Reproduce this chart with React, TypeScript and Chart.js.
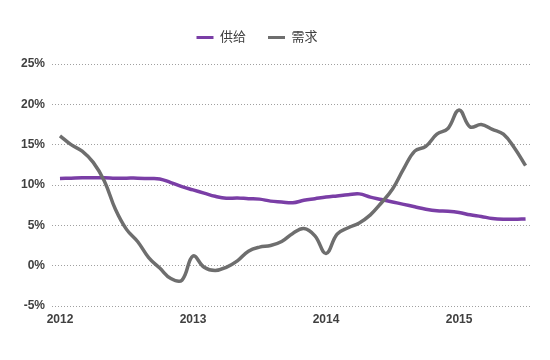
import React, { useEffect, useRef } from "react";
import { Chart, registerables } from "chart.js";

Chart.register(...registerables);

// months since Jan 2012
const months = [
  0, 1, 2, 3, 4, 5, 6, 7, 8, 9, 10, 11, 12, 13, 14, 15, 16, 17, 18, 19, 20,
  21, 22, 23, 24, 25, 26, 27, 28, 29, 30, 31, 32, 33, 34, 35, 36, 37, 38, 39,
  40, 41, 42,
];

const supply = [
  10.8, 10.85, 10.9, 10.9, 10.9, 10.85, 10.85, 10.85, 10.8, 10.75, 10.3, 9.8,
  9.4, 9.0, 8.6, 8.35, 8.4, 8.3, 8.25, 8.0, 7.9, 7.8, 8.1, 8.3, 8.5, 8.65, 8.8,
  8.9, 8.5, 8.2, 7.9, 7.6, 7.3, 7.0, 6.8, 6.75, 6.6, 6.3, 6.1, 5.85, 5.75,
  5.75, 5.8,
];

const demand = [
  16.1, 15.0, 14.2, 12.8, 10.5, 7.0, 4.5, 3.0, 1.0, -0.3, -1.6, -1.8, 1.2,
  -0.2, -0.6, -0.2, 0.6, 1.8, 2.3, 2.5, 3.0, 4.0, 4.6, 3.7, 1.5, 3.9, 4.7, 5.3,
  6.3, 7.8, 9.5, 12.0, 14.2, 14.8, 16.3, 17.0, 19.3, 17.2, 17.5, 16.9, 16.3,
  14.6, 12.4,
];

const seriesNames = ["供给", "需求"];
const yearTickValues = [0, 12, 24, 36];
const yearTickLabels = ["2012", "2013", "2014", "2015"];

export default function App() {
  const ref = useRef<HTMLCanvasElement | null>(null);

  useEffect(() => {
    if (!ref.current) return;
    const legendGap = {
      id: "legendGap",
      beforeInit(chart: any) {
        const origFit = chart.legend.fit;
        chart.legend.fit = function () {
          origFit.bind(chart.legend)();
          this.height += 10;
        };
      },
      beforeDraw(chart: any) {
        const lg = chart.legend;
        if (lg && !lg._shifted) {
          lg.left -= 12;
          lg.right -= 12;
          lg._shifted = true;
        }
      },
      afterUpdate(chart: any) {
        if (chart.legend) chart.legend._shifted = false;
      },
    };
    const chart = new Chart(ref.current, {
      type: "line",
      data: {
        datasets: [
          {
            label: seriesNames[1],
            data: months.map((m, i) => ({ x: m, y: demand[i] })),
            borderColor: "#6e6e6e",
            backgroundColor: "#6e6e6e",
            borderWidth: 3.5,
            pointRadius: 0,
            tension: 0.4,
          },
          {
            label: seriesNames[0],
            data: months.map((m, i) => ({ x: m, y: supply[i] })),
            borderColor: "#7a3ea6",
            backgroundColor: "#7a3ea6",
            borderWidth: 3.5,
            pointRadius: 0,
            tension: 0.4,
          },
        ],
      },
      plugins: [legendGap],
      options: {
        animation: false,
        responsive: false,
        layout: { padding: { top: 9, left: 8, right: 20, bottom: 0 } },
        plugins: {
          legend: {
            reverse: true,
            labels: {
              boxWidth: 17,
              boxHeight: 3,
              padding: 22,
              color: "#404040",
              font: { family: "'Liberation Sans', 'Noto Sans CJK SC'", size: 13 },
              generateLabels: (c: any) =>
                Chart.defaults.plugins.legend.labels
                  .generateLabels(c)
                  .map((l: any) => ({ ...l, lineWidth: 0 })),
            },
          },
          tooltip: { enabled: false },
        },
        scales: {
          x: {
            type: "linear",
            min: -0.72,
            max: 42.4,
            afterBuildTicks: (axis: any) => {
              axis.ticks = yearTickValues.map((v) => ({ value: v }));
            },
            afterFit: (scale: any) => {
              scale.height = 54;
            },
            grid: { display: false, drawTicks: false },
            border: { display: false },
            ticks: {
              padding: 6,
              autoSkip: false,
              maxRotation: 0,
              color: "#404040",
              font: { family: "'Liberation Sans', Arial", size: 12, weight: "bold" },
              callback: (v: any) => {
                const i = yearTickValues.indexOf(Number(v));
                return i >= 0 ? yearTickLabels[i] : "";
              },
            },
          },
          y: {
            min: -5,
            max: 25,
            afterFit: (scale: any) => {
              scale.width = 44;
            },
            grid: {
              color: "#a0a0a0",
              lineWidth: 1,
              drawTicks: false,
            },
            border: { display: false, dash: [1, 2] },
            ticks: {
              stepSize: 5,
              padding: 7,
              color: "#404040",
              font: { family: "'Liberation Sans', Arial", size: 12, weight: "bold" },
              callback: (v: any) => `${v}%`,
            },
          },
        },
      },
    });
    return () => chart.destroy();
  }, []);

  return (
    <div style={{ position: "absolute", left: 0, top: 0, width: 550, height: 360, background: "#fff" }}>
      <canvas ref={ref} width={550} height={360} />
    </div>
  );
}
